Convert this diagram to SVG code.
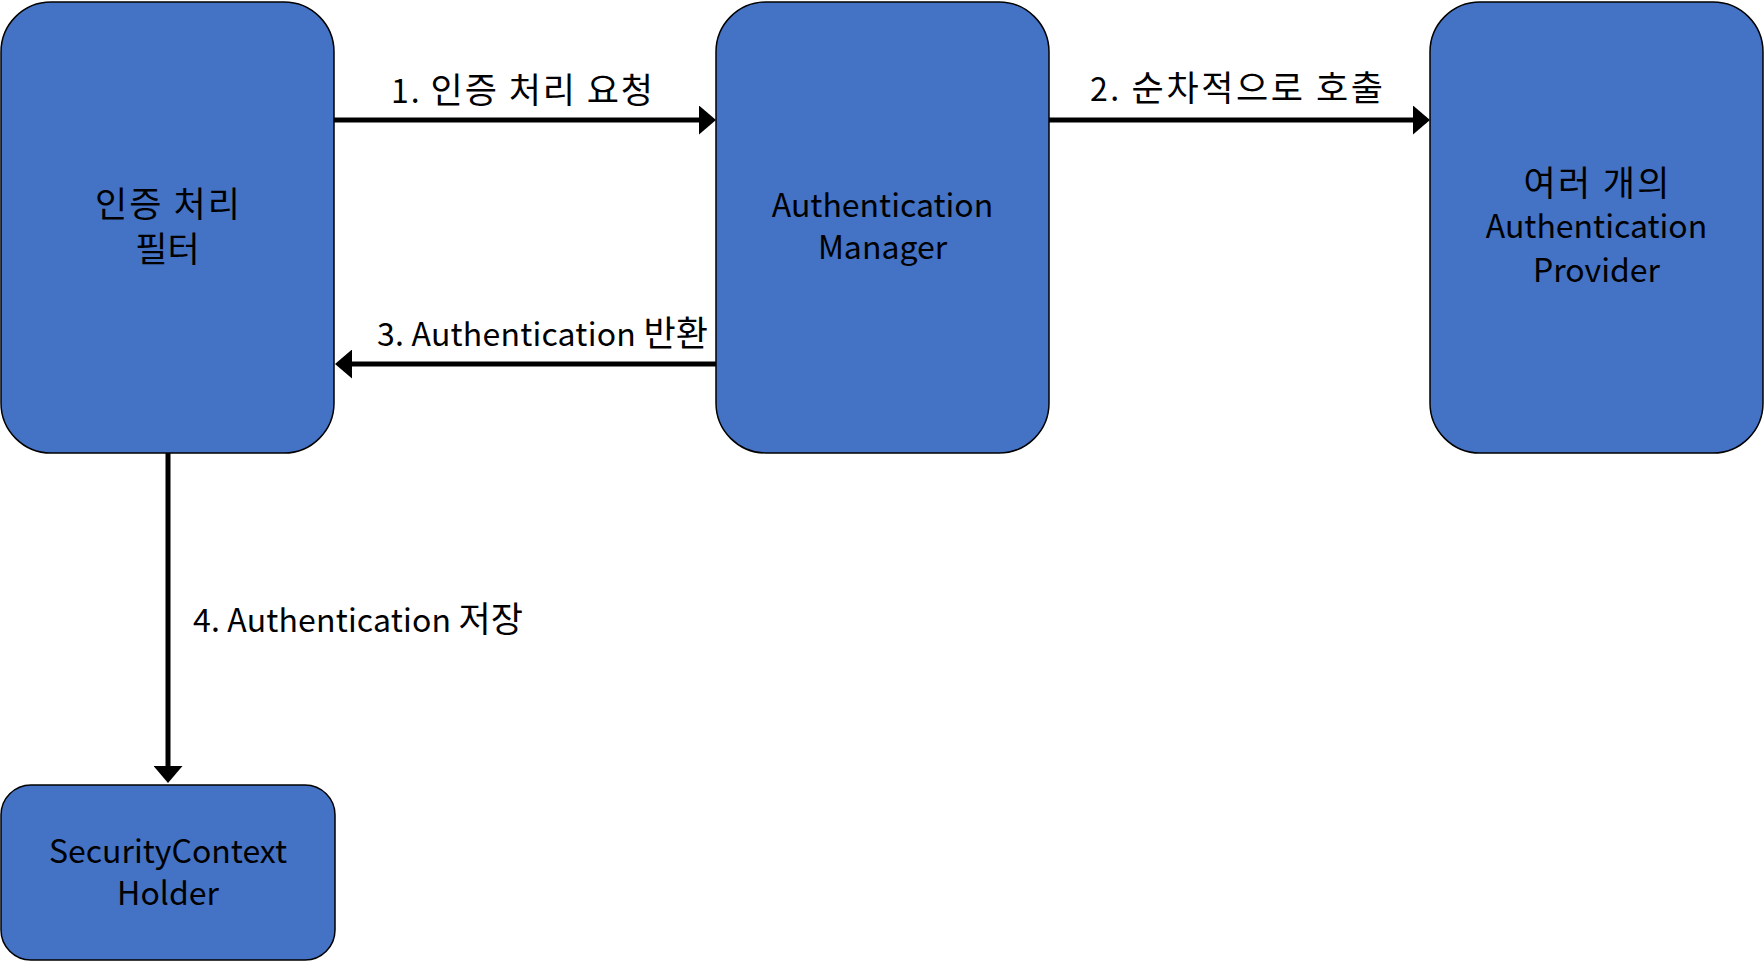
<svg xmlns="http://www.w3.org/2000/svg" width="1764" height="964" viewBox="0 0 1764 964">
<defs>
<style>
.box{fill:#4472C4;stroke:#000;stroke-width:1.5}
.t{font-family:"Noto Sans CJK KR","Noto Sans",sans-serif;font-size:32px;fill:#000;text-anchor:middle}
.lbl{font-family:"Noto Sans CJK KR","Noto Sans",sans-serif;font-size:32px;fill:#000}
.k{font-size:35px}
.edge{fill:none;stroke:#000;stroke-width:5}
</style>
<marker id="ah" viewBox="0 0 17 29" refX="0" refY="14.5" markerWidth="17" markerHeight="29" markerUnits="userSpaceOnUse" orient="auto">
<path d="M0,0 L17,14.5 L0,29 Z" fill="#000"/>
</marker>
</defs>
<rect width="1764" height="964" fill="#fff"/>
<g id="filter">
<rect class="box" x="1" y="2" width="333" height="451" rx="50" ry="50"/>
<text class="t k" x="167.5" y="217" textLength="145">인증 처리</text>
<text class="t k" x="167.5" y="262">필터</text>
</g>
<g id="manager">
<rect class="box" x="716" y="2" width="333" height="451" rx="50" ry="50"/>
<text class="t" x="882.5" y="217">Authentication</text>
<text class="t" x="882.5" y="259">Manager</text>
</g>
<g id="providers">
<rect class="box" x="1430" y="2" width="333" height="451" rx="50" ry="50"/>
<text class="t k" x="1596.5" y="196" textLength="146">여러 개의</text>
<text class="t" x="1596.5" y="238">Authentication</text>
<text class="t" x="1596.5" y="282">Provider</text>
</g>
<g id="holder">
<rect class="box" x="1" y="785" width="334" height="175" rx="30" ry="30"/>
<text class="t" x="168" y="863">SecurityContext</text>
<text class="t" x="168" y="905">Holder</text>
</g>
<g id="connectors">
<path class="edge" d="M334,120 H699" marker-end="url(#ah)"/>
<path class="edge" d="M1049,120 H1413" marker-end="url(#ah)"/>
<path class="edge" d="M716,364 H352" marker-end="url(#ah)"/>
<path class="edge" d="M168,453 V766" marker-end="url(#ah)"/>
<text class="t" x="522" y="103" textLength="262">1. <tspan class="k">인증 처리 요청</tspan></text>
<text class="t" x="1236.5" y="101" textLength="293">2. <tspan class="k">순차적으로 호출</tspan></text>
<text class="t" x="542.5" y="346" textLength="331">3. Authentication <tspan class="k">반환</tspan></text>
<text class="lbl" x="193" y="632" textLength="330">4. Authentication <tspan class="k">저장</tspan></text>
</g>
</svg>
